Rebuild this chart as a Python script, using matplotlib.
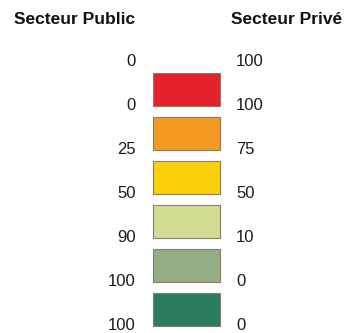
import matplotlib.pyplot as plt
import numpy as np

plt.rcParams["font.family"] = ["Liberation Sans", "DejaVu Sans"]

PUBLIC_LABELS  = ["0", "0", "25", "50", "90", "100", "100"]
PRIVATE_LABELS = ["100", "100", "75", "50", "10", "0", "0"]
BOX_COLORS     = ["#e4222b", "#f39a22", "#fccf0b", "#d3dc93", "#93ae84", "#2b7d5d"]

W, H = 345, 333
fig = plt.figure(figsize=(W / 100, H / 100), dpi=100)
ax = fig.add_axes([0, 0, 1, 1])
ax.set_xlim(0, W)
ax.set_ylim(H, 0)
ax.axis("off")

# layout (pixels)
step = 44
box_top0 = 73
box_h = 33
label_y0 = 62

n = len(BOX_COLORS)
tops = box_top0 + step * np.arange(n)
ax.bar(np.full(n, 186.5), np.full(n, box_h), width=67, bottom=tops,
       color=BOX_COLORS, edgecolor="#8a7c6c", linewidth=0.8)

for i, (pub, priv) in enumerate(zip(PUBLIC_LABELS, PRIVATE_LABELS)):
    y = label_y0 + step * i
    ax.text(135.5, y, pub, ha="right", va="center", fontsize=12, color="#1a1a1a")
    ax.text(236, y, priv, ha="left", va="center", fontsize=12, color="#1a1a1a")

ax.text(14, 20, "Secteur Public", ha="left", va="center",
        fontsize=12.5, fontweight="bold", color="#111111")
ax.text(231, 20, "Secteur Privé", ha="left", va="center",
        fontsize=12.5, fontweight="bold", color="#111111")

fig.savefig("out.png", dpi=100)
plt.close(fig)
